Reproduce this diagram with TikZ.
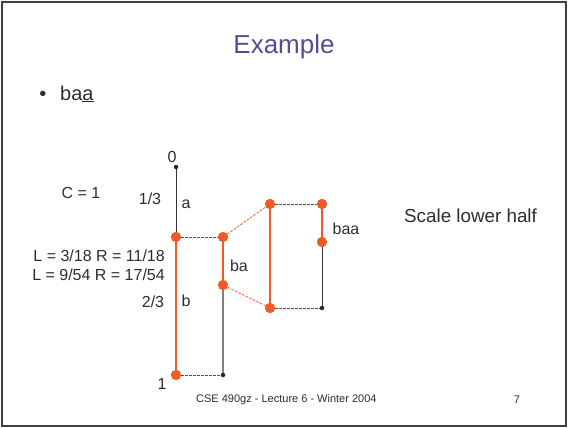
\documentclass[tikz,border=0pt]{standalone}
\usepackage{fontspec}
\setmainfont{Liberation Sans}
\usetikzlibrary{calc}
\definecolor{org}{RGB}{240,90,40}
\definecolor{txt}{RGB}{45,45,45}
\definecolor{ttl}{RGB}{80,80,145}
\definecolor{dsh}{RGB}{80,80,80}
\begin{document}
\begin{tikzpicture}[x=1pt,y=-1pt,
  odot/.style={circle,fill=org,inner sep=0pt,minimum size=10pt},
  kdot/.style={circle,fill=black!85,inner sep=0pt,minimum size=4.5pt},
  lbl/.style={text=txt,inner sep=0pt,font=\fontsize{16}{19}\selectfont},
  oline/.style={draw=org,line width=2.2pt},
  kline/.style={draw=black!80,line width=0.8pt},
  gline/.style={draw=black!50,line width=1.2pt},
  dline/.style={draw=dsh,dashed,dash pattern=on 2.5pt off 1.5pt,line width=0.7pt},
  odline/.style={draw=org,dashed,dash pattern=on 2.5pt off 1.5pt,line width=0.8pt}]
\useasboundingbox (0,0) rectangle (568,428);
\draw[draw=black!75,line width=2pt] (2,2) rectangle (566,426);
\node[text=ttl,font=\fontsize{26}{30}\selectfont] (title) at (284,47) {Example};
\node[text=txt,anchor=base,inner sep=0pt,font=\fontsize{20}{24}\selectfont] (bul) at (43,100) {\textbullet};
\node[text=txt,anchor=base west,inner sep=0pt,font=\fontsize{20}{24}\selectfont] (baa) at (60,100) {ba\underline{a}};
% column 1
\node[kdot] (p0) at (176,167) {};
\node[odot] (p1) at (176,237) {};
\node[odot] (p2) at (176,375) {};
% column 2
\node[odot] (q1) at (223,237) {};
\node[odot] (q2) at (223,285) {};
\node[kdot] (q3) at (223,375) {};
% column 3
\node[odot] (r1) at (270,204) {};
\node[odot] (r2) at (270,308) {};
% column 4
\node[odot] (s1) at (322,204) {};
\node[odot] (s2) at (322,242) {};
\node[kdot] (s3) at (322,308) {};
% lines
\draw[kline] (p0) -- (p1);
\draw[oline] (p1) -- (p2);
\draw[dline] (p1) -- (q1);
\draw[dline] (p2) -- (q3);
\draw[oline] (q1) -- (q2);
\draw[gline] (q2) -- (q3);
\draw[odline] (q1) -- (r1);
\draw[odline] (q2) -- (r2);
\draw[oline] (r1) -- (r2);
\draw[dline] (r1) -- (s1);
\draw[dline] (r2) -- (s3);
\draw[oline] (s1) -- (s2);
\draw[kline] (s2) -- (s3);
% redraw dots on top
\foreach \n in {p1,p2,q1,q2,r1,r2,s1,s2}{\fill[org] (\n) circle (5pt);}
% labels
\node[lbl] (l0) at (172,157) {0};
\node[lbl] (l1) at (162,384) {1};
\node[lbl] (la) at (186,204) {a};
\node[lbl] (lb) at (186,301) {b};
\node[lbl] (l13) at (150,199) {1/3};
\node[lbl] (l23) at (153,302) {2/3};
\node[lbl] (lba) at (239,266) {ba};
\node[lbl] (lbaa) at (346,229) {baa};
\node[lbl] (lc) at (81,193) {C = 1};
\node[lbl,anchor=east] (lr1) at (165,256) {L = 3/18 R = 11/18};
\node[lbl,anchor=east] (lr2) at (165,275) {L = 9/54 R = 17/54};
\node[lbl,anchor=west,font=\fontsize{18.8}{22}\selectfont] (scale) at (404,216) {Scale lower half};
\node[text=txt,anchor=west,inner sep=0pt,font=\fontsize{11}{13}\selectfont] (foot) at (196,400) {CSE 490gz - Lecture 6 - Winter 2004};
\node[text=txt,inner sep=0pt,font=\fontsize{11}{13}\selectfont] (pg) at (517,400) {7};
\end{tikzpicture}
\end{document}
